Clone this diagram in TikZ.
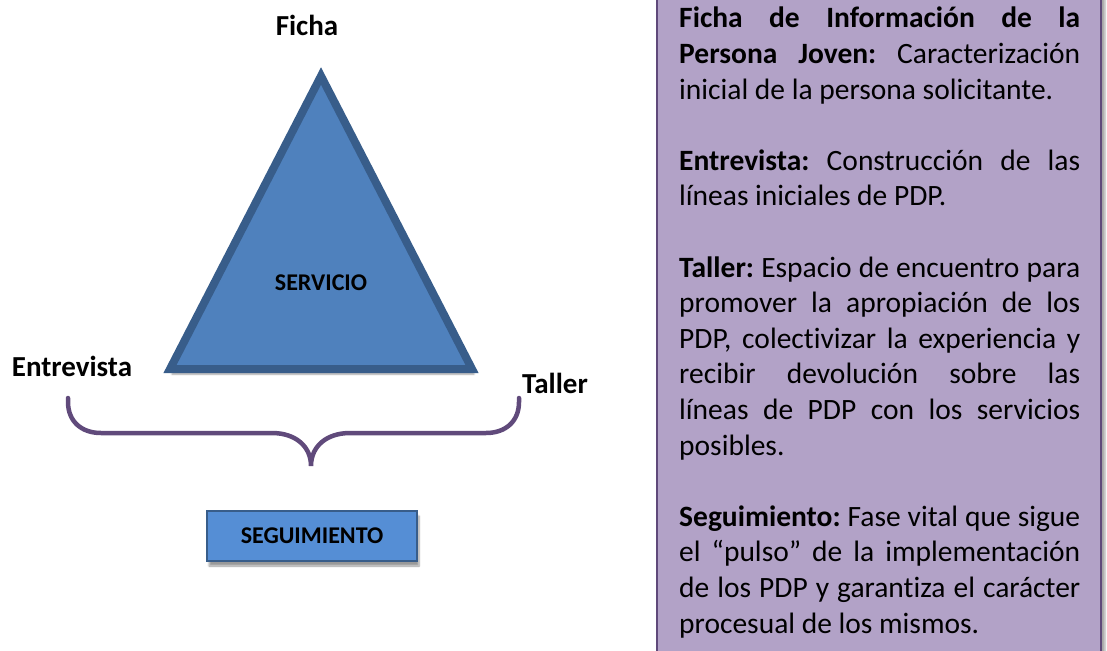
\documentclass[tikz,border=0pt]{standalone}
\usepackage{fontspec}
\setmainfont{Carlito}[Ligatures=NoCommon]
\usetikzlibrary{calc}
\usetikzlibrary{positioning}
\usetikzlibrary{shadows.blur}

\definecolor{triblue}{HTML}{4F81BD}
\definecolor{triedge}{HTML}{385D8A}
\definecolor{boxblue}{HTML}{558ED5}
\definecolor{bracepurple}{HTML}{604A7B}
\definecolor{notefill}{HTML}{B2A2C7}
\definecolor{noteedge}{HTML}{5F497A}

\tikzset{
 lbl/.style={font=\fontsize{29}{34}\selectfont\bfseries, inner sep=0},
 inlbl/.style={font=\fontsize{24}{28}\selectfont\bfseries, inner sep=0},
 brace/.style={bracepurple, line width=4.5pt, line cap=round},
 softshadow/.style={blur shadow={shadow xshift=2pt, shadow yshift=-5pt, shadow blur steps=6, shadow opacity=40}},
}

\begin{document}
\begin{tikzpicture}[x=1pt,y=-1pt]
\useasboundingbox (0,0) rectangle (1107,650);

% note panel
\draw[noteedge, line width=2.5pt, fill=notefill, blur shadow={shadow xshift=4pt, shadow yshift=0pt, shadow opacity=35}] (657,-10) rectangle (1101,660);
\node[anchor=north west, text width=401pt, align=justify, inner sep=0,
 font=\fontsize{29.5}{35.6}\selectfont] (desc) at (679,7) {%
 \parindent=0pt\hyphenpenalty=10000\frenchspacing
 \textbf{Ficha de Información de la\linebreak Persona Joven:} Caracterización\linebreak inicial de la persona solicitante.\par\vspace{35.6pt}
 \textbf{Entrevista:} Construcción de las\linebreak líneas iniciales de PDP.\par\vspace{35.6pt}
 \textbf{Taller:} Espacio de encuentro para\linebreak promover la apropiación de los\linebreak PDP, colectivizar la experiencia y\linebreak recibir devolución sobre las\linebreak líneas de PDP con los servicios\linebreak posibles.\par\vspace{35.6pt}
 \textbf{Seguimiento:} Fase vital que sigue\linebreak el “pulso” de la implementación\linebreak de los PDP y garantiza el carácter\linebreak procesual de los mismos.};

% triangle
\coordinate (apex) at (321,76);
\coordinate (bl) at (170,369);
\coordinate (br) at (472,369);
\draw[triedge, line width=8pt, fill=triblue, line join=miter, softshadow] (apex) -- (bl) -- (br) -- cycle;
\node[inlbl] (servicio) at (321,283) {SERVICIO};

\node[lbl] (ficha) at (307,25) {Ficha};
\node[lbl] (entrevista) at (72,366) {Entrevista};
\node[lbl] (taller) at (555,383) {Taller};

% brace
\coordinate (braceL) at (68,398);
\coordinate (braceR) at (519,398);
\coordinate (tip) at (311,466);
\draw[brace] (braceL) -- ++(0,4) .. controls (68,421) and (81,433) .. (101,433) -- (272,433)
 .. controls (295,433) and (311,446) .. (tip)
 .. controls (311,446) and (327,433) .. (350,433) -- (486,433)
 .. controls (506,433) and (519,421) .. (519,402) -- (braceR);

\node[draw=triedge, line width=2pt, fill=boxblue, minimum width=210pt, minimum height=50pt, softshadow, inlbl] (seguimiento) at (312,536) {SEGUIMIENTO};
\end{tikzpicture}
\end{document}
